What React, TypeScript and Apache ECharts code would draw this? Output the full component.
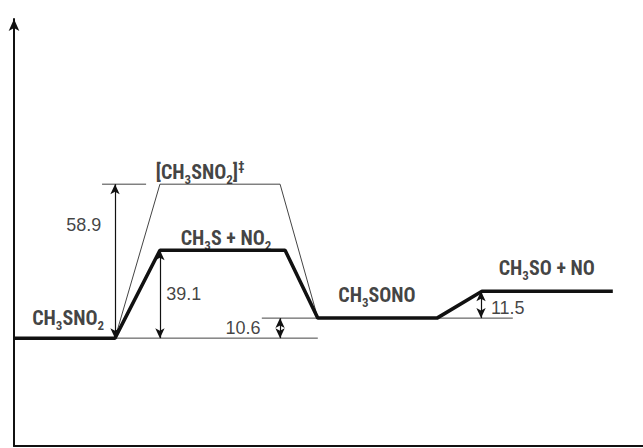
import React, { useEffect, useRef } from "react";
import * as echarts from "echarts";

const species = ["CH3SNO2", "CH3S + NO2", "CH3SONO", "CH3SO + NO"];
const levelHeight = [0, 39.1, 8.9, 20.9];
const levelStart = [0, 23.2, 48.3, 74.4];
const levelEnd = [16.06, 43.1, 67.25, 95.2];
const speciesLabelX = [8.6, 33.7, 57.7, 84.7];
const speciesLabelY = [8.9, 44.5, 19.1, 31.2];

// Transition state
const tsName = "[CH3SNO2]‡";
const tsHeight = 68.5;
const tsStart = 23.2;
const tsEnd = 42.3;
const tsLabelX = 29.6;
const tsLabelY = 73.9;

// Energy differences (kcal/mol): text, arrow x, from, to, label position
const diffText = ["58.9", "39.1", "10.6", "11.5"];
const diffArrowX = [16.06, 23.2, 42.3, 74.25];
const diffFrom = [0, 0, 0, 8.9];
const diffTo = [68.5, 39.1, 8.9, 20.9];
const diffLabelX = [11.1, 27.0, 36.4, 78.5];
const diffLabelY = [50.3, 19.6, 4.45, 13.4];

// Thin reference lines: [xStart, xEnd, y]
const refLines: number[][] = [
  [14.0, 21.0, 68.5],
  [16.06, 48.3, 0],
  [39.4, 48.3, 8.9],
  [67.25, 79.3, 8.9],
];

const labelFont = '"Liberation Sans Narrow", "Roboto Condensed", "DejaVu Sans Condensed", "Liberation Sans", sans-serif';
const numFont = '"Liberation Sans", Arial, sans-serif';

function rich(s: string): string {
  return s
    .split(/(\d|‡)/)
    .filter((t) => t !== "")
    .map((t) => (/\d/.test(t) ? `{s|${t}}` : t === "‡" ? `{p|${t}}` : `{n|${t}}`))
    .join("");
}

export default function App() {
  const ref = useRef<HTMLDivElement>(null);
  useEffect(() => {
    if (!ref.current) return;
    const chart = echarts.init(ref.current, undefined, { renderer: "svg" });

    const thick: number[][] = [];
    species.forEach((_, i) => {
      thick.push([levelStart[i], levelHeight[i]]);
      thick.push([levelEnd[i], levelHeight[i]]);
    });
    const tsPath = [
      [levelEnd[0], levelHeight[0]],
      [tsStart, tsHeight],
      [tsEnd, tsHeight],
      [levelStart[2], levelHeight[2]],
    ];

    const richStyles = {
      n: { fontFamily: labelFont, fontWeight: "bold", fontSize: 20, color: "#111" },
      s: { fontFamily: labelFont, fontWeight: "bold", fontSize: 13, color: "#111", verticalAlign: "bottom", lineHeight: 27 },
      p: { fontFamily: labelFont, fontWeight: "bold", fontSize: 13, color: "#111", verticalAlign: "top", lineHeight: 24 },
    };

    const series: any[] = [
      {
        type: "line",
        data: thick,
        symbol: "none",
        lineStyle: { color: "#111", width: 3.5 },
        z: 5,
      },
      {
        type: "line",
        data: tsPath,
        symbol: "none",
        lineStyle: { color: "#444", width: 1 },
        z: 4,
      },
      ...refLines.map((r) => ({
        type: "line",
        data: [
          [r[0], r[2]],
          [r[1], r[2]],
        ],
        symbol: "none",
        lineStyle: { color: "#444", width: 1 },
        z: 3,
      })),
      {
        type: "line",
        data: [],
        markLine: {
          silent: true,
          symbol: ["arrow", "arrow"],
          symbolSize: [7, 10],
          label: { show: false },
          lineStyle: { color: "#111", width: 1.2, type: "solid" },
          data: diffArrowX.map((x, i) => [
            { coord: [x, diffFrom[i]] },
            { coord: [x, diffTo[i]] },
          ]),
        },
      },
      {
        type: "scatter",
        symbolSize: 0,
        data: [
          ...species.map((name, i) => ({ name, value: [speciesLabelX[i], speciesLabelY[i]] })),
          { name: tsName, value: [tsLabelX, tsLabelY] },
        ],
        label: {
          show: true,
          position: "inside",
          formatter: (p: any) => rich(p.name),
          rich: richStyles,
        },
        z: 6,
      },
      {
        type: "scatter",
        symbolSize: 0,
        data: diffText.map((name, i) => ({ name, value: [diffLabelX[i], diffLabelY[i]] })),
        label: {
          show: true,
          position: "inside",
          formatter: (p: any) => p.name,
          fontFamily: numFont,
          fontSize: 18,
          color: "#111",
        },
        z: 6,
      },
    ];

    chart.setOption({
      animation: false,
      backgroundColor: "#fff",
      grid: { left: 14, right: 0, top: 19, bottom: 2 },
      xAxis: {
        type: "value",
        min: 0,
        max: 100,
        axisLine: { show: true, onZero: false, lineStyle: { color: "#111", width: 2 } },
        axisTick: { show: false },
        axisLabel: { show: false },
        splitLine: { show: false },
      },
      yAxis: {
        type: "value",
        min: -48,
        max: 142,
        axisLine: {
          show: true,
          onZero: false,
          symbol: ["none", "arrow"],
          symbolSize: [8, 12],
          lineStyle: { color: "#111", width: 2 },
        },
        axisTick: { show: false },
        axisLabel: { show: false },
        splitLine: { show: false },
      },
      series,
    });
    return () => chart.dispose();
  }, []);
  return <div ref={ref} style={{ position: "fixed", left: 0, top: 0, width: 643, height: 448 }} />;
}
